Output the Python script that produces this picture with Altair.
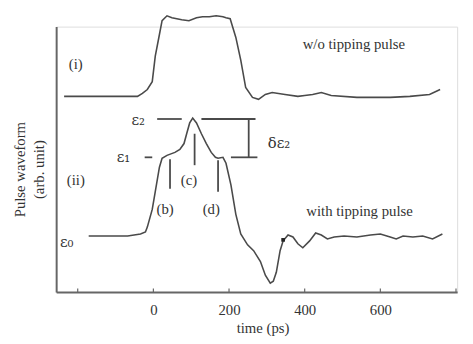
import altair as alt
import pandas as pd

# --- data (time in ps, amplitude in arbitrary units) ---
t_i = [-236, -145, -42, -29, -16, -3, 5, 16, 23, 36, 49, 62, 75, 94, 114, 130, 148, 166, 184, 192, 203, 210, 218, 231, 244, 262, 278, 296, 314, 348, 382, 400, 421, 444, 470, 538, 626, 678, 730, 758]
y_i = [199, 199, 199, 202, 206, 214, 240, 262, 276, 281, 279, 278, 277, 276, 279, 280, 280, 281, 280, 279, 278, 269, 259, 236, 208, 198, 196, 201, 203, 201, 199, 200, 201, 203, 200, 198, 198, 199, 201, 206]

t_ii = [-171, -119, -68, -34, -21, -16, -3, 5, 16, 23, 36, 57, 70, 81, 88, 96, 104, 114, 127, 140, 153, 164, 171, 184, 192, 205, 218, 231, 249, 265, 283, 296, 309, 317, 325, 335, 343, 356, 369, 382, 395, 413, 429, 444, 460, 478, 504, 538, 574, 600, 626, 642, 660, 686, 712, 738, 764]
y_ii = [57, 57, 57, 59, 61, 66, 84, 102, 127, 136, 139, 142, 145, 151, 161, 172, 177, 172, 161, 151, 142, 137, 136, 137, 131, 109, 79, 59, 48, 42, 31, 17, 9, 11, 20, 42, 52, 58, 56, 49, 45, 52, 60, 58, 54, 56, 57, 56, 58, 59, 56, 54, 57, 56, 57, 54, 59]

# annotation segments: level lines and markers
seg_t1 = [10, 127, -23, 205, 252, 44, 109, 171]
seg_t2 = [75, 270, -3, 275, 252, 44, 109, 171]
seg_y1 = [176, 176, 137, 137, 176, 135, 161, 134]
seg_y2 = [176, 176, 137, 137, 137, 105, 129, 102]

# text labels
lab_text = ["(i)", "(ii)", "(b)", "(c)", "(d)", "w/o tipping pulse", "with tipping pulse"]
lab_t = [-205, -205, 31, 94, 153, 530, 545]
lab_y = [232, 114, 84, 114, 84, 252, 82]

# epsilon labels
eps_text = ["ε₀", "ε₁", "ε₂", "δε₂"]
eps_t = [-229, -79, -40, 332]
eps_y = [51, 137, 175, 151]

# small marker on curve (ii)
dot_t = [343]
dot_y = [53]

tick_t = [-200, 0, 200, 400, 600, 800]
tick_labels = [0, 200, 400, 600]

LINE = "#4a4a4a"
TEXT = "#333333"
FONT = "Liberation Serif"

curves = pd.DataFrame({
    "t": t_i + t_ii,
    "y": y_i + y_ii,
    "series": ["i"] * len(t_i) + ["ii"] * len(t_ii),
})
segs = pd.DataFrame({"t": seg_t1, "t2": seg_t2, "y": seg_y1, "y2": seg_y2})
labs = pd.DataFrame({"text": lab_text, "t": lab_t, "y": lab_y})
eps = pd.DataFrame({"text": eps_text, "t": eps_t, "y": eps_y})
dots = pd.DataFrame({"t": dot_t, "y": dot_y})
ticks = pd.DataFrame({"t": tick_t, "y": [0] * len(tick_t), "y2": [3.5] * len(tick_t)})

xs = alt.Scale(domain=[-257, 803], nice=False, zero=False)
ys = alt.Scale(domain=[0, 270], nice=False, zero=False)

x_axis = alt.Axis(
    values=tick_labels, ticks=False, grid=False,
    labelFont=FONT, labelFontSize=15, labelColor=TEXT, labelPadding=11,
    domainColor="#666666", domainWidth=2,
    title="time (ps)", titleFont=FONT, titleFontSize=15, titleFontWeight="normal",
    titleColor=TEXT, titleX=210, titlePadding=3,
)
y_axis = alt.Axis(
    labels=False, ticks=False, grid=False,
    domainColor="#666666", domainWidth=2,
    title=["Pulse waveform", "(arb. unit)"], titleFont=FONT, titleFontSize=15,
    titleFontWeight="normal", titleColor=TEXT, titlePadding=10, titleY=145,
    titleLineHeight=19,
)

lines = alt.Chart(curves).mark_line(color=LINE, strokeWidth=1.6, clip=False).encode(
    x=alt.X("t:Q", scale=xs, axis=x_axis),
    y=alt.Y("y:Q", scale=ys, axis=y_axis),
    detail="series:N",
)
seg_layer = alt.Chart(segs).mark_rule(color=LINE, strokeWidth=1.8).encode(
    x="t:Q", x2="t2", y="y:Q", y2="y2"
)
tick_layer = alt.Chart(ticks).mark_rule(color="#666666", strokeWidth=1.2).encode(
    x="t:Q", y="y:Q", y2="y2"
)
text_layer = alt.Chart(labs).mark_text(
    font=FONT, fontSize=15, color=TEXT, align="center", baseline="middle"
).encode(x="t:Q", y="y:Q", text="text:N")
eps_layer = alt.Chart(eps).mark_text(
    font="DejaVu Serif", fontSize=15, color=TEXT, align="center", baseline="middle"
).encode(x="t:Q", y="y:Q", text="text:N")
dot_layer = alt.Chart(dots).mark_point(
    shape="square", filled=True, color="#222222", size=14, opacity=1
).encode(x="t:Q", y="y:Q")

chart = alt.layer(lines, seg_layer, tick_layer, text_layer, eps_layer, dot_layer).properties(
    width=408, height=270,
    autosize=alt.AutoSizeParams(type="none"),
    padding={"left": 49, "top": 16, "right": 8, "bottom": 50},
).configure_view(stroke=None).configure(background="white")

chart.save("out.html", embed_options={"renderer": "svg", "actions": False})
